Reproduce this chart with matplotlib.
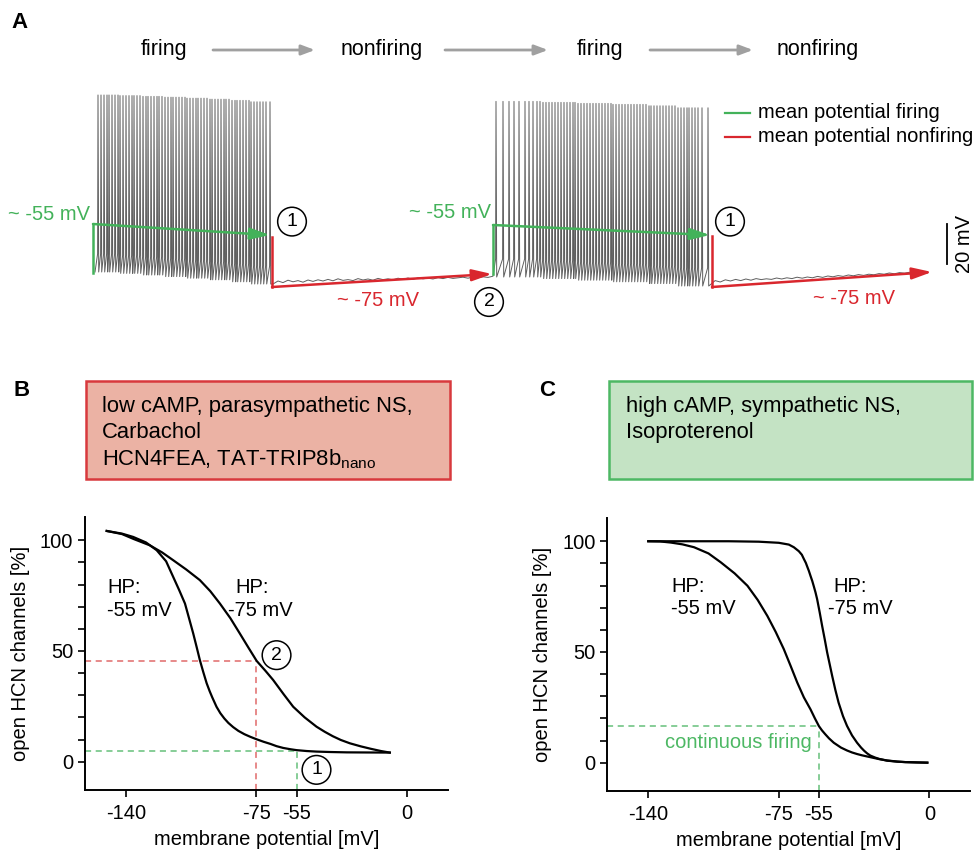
import numpy as np
import matplotlib
matplotlib.use("Agg")
import matplotlib.pyplot as plt
from matplotlib.patches import Rectangle

plt.rcParams['font.family'] = ['Liberation Sans', 'DejaVu Sans']
plt.rcParams['axes.unicode_minus'] = False
plt.rcParams['mathtext.fontset'] = 'custom'
plt.rcParams['mathtext.rm'] = 'Liberation Sans'

W, H = 975, 852
GREEN = '#43b25a'
RED = '#d9272e'
TRACE = '#5e5e5e'

# ---- panel A: spike trace (time in s, potential in mV) ----
SPIKES_1 = [9.8, 10.1, 10.4, 10.7, 10.9, 11.2, 11.5, 11.8, 12.0, 12.3, 12.6, 12.9,
            13.2, 13.4, 13.7, 14.0, 14.3, 14.6, 14.8, 15.1, 15.4, 15.7, 15.9, 16.2,
            16.5, 16.8, 17.1, 17.3, 17.6, 17.9, 18.2, 18.5, 18.7, 19.0, 19.3, 19.6,
            19.8, 20.1, 20.4, 20.7, 21.0, 21.2, 21.5, 21.8, 22.1, 22.4, 22.6, 22.9,
            23.2, 23.5, 23.7, 24.0, 24.3, 24.6, 24.9, 25.1, 25.4, 25.7, 26.0, 26.3,
            26.6, 27.0]
PEAK_1 = ([21.0] * 8 + [20.7] * 8 + [20.3] * 8 + [19.9] * 8 + [19.4] * 8 +
          [18.9] * 8 + [18.3] * 7 + [17.6] * 7)
TROUGH_1 = ([-67.5] * 8 + [-68.2] * 8 + [-69.0] * 8 + [-69.8] * 8 + [-70.6] * 8 +
            [-71.4] * 8 + [-72.4] * 7 + [-73.5] * 7)

SPIKES_2 = [49.6, 50.3, 50.9, 51.4, 51.9, 52.5, 52.9, 53.3, 53.7, 54.0, 54.3, 54.6,
            54.9, 55.2, 55.5, 55.8, 56.1, 56.4, 56.7, 57.0, 57.3, 57.5, 57.8, 58.1,
            58.4, 58.7, 59.0, 59.3, 59.6, 59.9, 60.2, 60.5, 60.8, 61.1, 61.3, 61.6,
            61.9, 62.2, 62.5, 62.8, 63.1, 63.4, 63.7, 64.0, 64.3, 64.6, 64.9, 65.1,
            65.4, 65.7, 66.0, 66.3, 66.6, 66.9, 67.2, 67.5, 67.8, 68.1, 68.4, 68.7,
            68.9, 69.2, 69.5, 69.8, 70.2, 70.8]
PEAK_2 = ([17.8] * 10 + [17.3] * 12 + [16.8] * 12 + [16.3] * 12 + [15.6] * 10 +
          [14.6] * 10)
TROUGH_2 = ([-70.0] * 10 + [-70.8] * 12 + [-71.6] * 12 + [-72.4] * 12 + [-73.3] * 10 +
            [-74.5] * 10)

BASE_1_T = (27.3, 49.3)
BASE_1_V = [-73.5, -72.0, -72.8, -71.6, -72.4, -71.8, -72.6, -71.5, -72.2, -71.4,
            -72.0, -71.2, -71.9, -70.9, -71.7, -71.3, -71.8, -70.8, -71.5, -71.0,
            -71.6, -70.7, -71.3, -70.9, -71.4, -70.6, -71.1, -70.5, -71.2, -70.4,
            -70.9, -70.6, -71.0, -70.3, -70.8, -70.2, -70.7, -70.4, -70.1, -70.6,
            -70.0, -70.4, -69.9, -70.2, -69.6]
BASE_2_T = (71.0, 92.0)
BASE_2_V = [-74.0, -71.8, -72.5, -71.4, -72.0, -71.2, -71.8, -71.0, -71.6, -70.8,
            -71.3, -70.9, -71.2, -70.5, -71.0, -70.4, -70.8, -70.1, -70.6, -70.0,
            -70.4, -69.7, -70.2, -69.5, -69.9, -69.3, -69.7, -69.0, -69.4, -68.8,
            -69.2, -68.6, -68.9, -68.3, -68.6, -68.0, -68.4, -67.8, -68.1, -67.6,
            -67.9, -67.4]

# mean potential markers: firing (green) and nonfiring (red)
FIRE_T0 = [9.3, 49.3]
FIRE_T1 = [27.0, 71.0]
FIRE_BOTTOM = [-68.0, -68.5]
FIRE_V0 = [-43.5, -44.0]
FIRE_V1 = [-49.0, -49.0]
NONF_T0 = [27.2, 71.2]
NONF_T1 = [49.2, 93.2]
NONF_TOP = [-50.0, -49.5]
NONF_V0 = [-75.0, -75.0]
NONF_V1 = [-68.5, -67.5]

STATES = ['firing', 'nonfiring', 'firing', 'nonfiring']

# ---- panels B and C: activation curves (mV, % open) ----
X_TICKS = [-140, -75, -55, 0]
B_HP55_V = [-149.6, -142, -136.4, -130, -124.7, -120, -116.5, -113.5, -110.6, -108.5,
            -106.5, -104.8, -103.2, -101.5, -99.8, -98.3, -97, -94.9, -93, -91, -89,
            -86.6, -84, -81, -78, -74.9, -71.5, -68, -65, -61.7, -58, -55, -50,
            -45.1, -38, -30, -20, -8.6]
B_HP55_P = [104.2, 103.0, 101.5, 99.0, 95.5, 90.5, 83.5, 77.5, 71.4, 64.5, 57.9, 51.8,
            45.9, 40.5, 35.4, 31.8, 29.0, 24.8, 21.9, 19.5, 17.5, 15.6, 13.9, 12.4,
            11.2, 10.1, 9.0, 8.0, 7.0, 6.2, 5.6, 5.2, 4.8, 4.55, 4.35, 4.2, 4.15, 4.1]
B_HP75_V = [-149.6, -142, -136, -128.1, -122, -116.5, -110, -103.2, -98, -93.2, -88,
            -83.3, -79, -74.9, -70.5, -66.7, -61.5, -56.7, -51, -45.1, -41, -37,
            -33, -28.5, -23, -18, -13, -8.6]
B_HP75_P = [104.2, 102.8, 100.5, 97.7, 94.5, 91.0, 86.8, 82.0, 77.0, 71.4, 64.8, 57.9,
            51.5, 45.5, 41.0, 36.9, 30.5, 24.8, 20.0, 15.8, 13.5, 11.5, 9.8, 8.3, 6.9,
            5.8, 4.8, 4.1]
C_HP75_V = [-140, -120, -100, -85, -75, -70, -67.5, -65, -63.5, -62.5, -61.5, -60.8,
            -60, -59.2, -58.3, -57.5, -56.7, -55.9, -54.6, -53.4, -52.1, -50.9, -49.6,
            -48.4, -46.8, -45.2, -43, -41, -38.5, -36, -34, -32.5, -31, -29.4, -27,
            -25, -21.1, -16, -12, -6, -1]
C_HP75_P = [100, 100, 100, 99.8, 99.3, 98.5, 97.3, 95.5, 93.9, 92.0, 90.2, 88.5, 86.6,
            84.4, 82.0, 79.5, 76.9, 73.9, 67.8, 61.8, 55.7, 49.8, 44.3, 39.2, 32.8,
            27.1, 21.0, 16.6, 12.3, 9.0, 6.8, 5.4, 4.2, 3.2, 2.3, 1.7, 0.9, 0.45, 0.25,
            0.1, 0]
C_HP55_V = [-140, -134, -128.7, -123, -117.2, -110, -103.9, -97, -90.6, -85.5, -80.7,
            -76.5, -72.5, -69, -65.8, -62.5, -59.2, -57, -55, -53.5, -52, -50, -47.6,
            -44, -41, -38.5, -36, -33.5, -31, -28, -25, -21.1, -16, -12, -6, -1]
C_HP55_P = [100, 99.9, 99.4, 98.6, 97.3, 94.5, 90.5, 85.5, 79.9, 73.5, 66.3, 59.0, 51.3,
            43.5, 36.2, 29.5, 24.1, 20.0, 16.5, 14.6, 13.0, 11.0, 9.0, 6.8, 5.5, 4.6,
            3.9, 3.3, 2.8, 2.2, 1.6, 1.0, 0.5, 0.25, 0.1, 0]

B_CROSS = {'red': (-75, 45.5), 'green': (-55, 5.0)}
C_CROSS = (-55, 16.5)


def fx(x):
    return x / W


def fy(y):
    return 1 - y / H


def circled(ax, x, y, label):
    ax.text(x, y, label, ha='center', va='center', fontsize=14, zorder=5,
            bbox=dict(boxstyle='circle,pad=0.3', fc='white', ec='black', lw=1.1))


def arrow(ax, p0, p1, color, lw=1.8, **kw):
    ax.annotate('', xy=p1, xytext=p0,
                arrowprops=dict(arrowstyle='-|>,head_length=1.2,head_width=0.35',
                                color=color, lw=lw, shrinkA=0, shrinkB=0,
                                mutation_scale=10), **kw)


def build_burst(times, peaks, troughs):
    t, v = [], []
    for ts, pk, tr in zip(times, peaks, troughs):
        t += [ts - 0.04, ts, ts + 0.07]
        v += [tr + 9.0, pk, tr]
    return t, v


def hcn_axes(rect):
    ax = fig.add_axes(rect)
    ax.set_xlim(-160.4, 20.4)
    ax.set_ylim(-12.8, 110.5)
    for s in ['top', 'right']:
        ax.spines[s].set_visible(False)
    for s in ['left', 'bottom']:
        ax.spines[s].set_linewidth(1.4)
    ax.set_xticks(X_TICKS)
    ax.set_xticklabels([str(v) for v in X_TICKS])
    ax.set_yticks([0, 50, 100])
    ax.set_yticks(np.arange(0, 101, 10), minor=True)
    ax.tick_params(which='both', length=5, width=1.2, direction='out', labelsize=14.5)
    ax.tick_params(axis='x', pad=5)
    ax.set_xlabel('membrane potential [mV]', fontsize=14.5, labelpad=5)
    ax.set_ylabel('open HCN channels [%]', fontsize=14.5, labelpad=7)
    return ax


fig = plt.figure(figsize=(W / 100, H / 100), dpi=100)

# ---------------- panel A ----------------
axA = fig.add_axes([0, fy(330), 1, 330 / H])
axA.set_xlim(0, 97.5)
axA.set_ylim(-96.5, 68.5)
axA.axis('off')

t1, v1 = build_burst(SPIKES_1, PEAK_1, TROUGH_1)
t2, v2 = build_burst(SPIKES_2, PEAK_2, TROUGH_2)
bt1 = list(np.linspace(BASE_1_T[0], BASE_1_T[1], len(BASE_1_V)))
bt2 = list(np.linspace(BASE_2_T[0], BASE_2_T[1], len(BASE_2_V)))
trace_t = [SPIKES_1[0] - 0.3] + t1 + bt1 + t2 + bt2
trace_v = [TROUGH_1[0]] + v1 + BASE_1_V + v2 + BASE_2_V
axA.plot(trace_t, trace_v, color=TRACE, lw=0.7, zorder=2)

for i in range(2):
    axA.plot([FIRE_T0[i], FIRE_T0[i]], [FIRE_BOTTOM[i], FIRE_V0[i]], color=GREEN, lw=1.8, zorder=3)
    arrow(axA, (FIRE_T0[i], FIRE_V0[i]), (FIRE_T1[i], FIRE_V1[i]), GREEN)
    axA.plot([NONF_T0[i], NONF_T0[i]], [NONF_TOP[i], NONF_V0[i]], color=RED, lw=1.8, zorder=3)
    arrow(axA, (NONF_T0[i], NONF_V0[i]), (NONF_T1[i], NONF_V1[i]), RED)

axA.text(9.0, -39, '~ -55 mV', color=GREEN, fontsize=14.5, ha='right', va='center')
axA.text(49.1, -38, '~ -55 mV', color=GREEN, fontsize=14.5, ha='right', va='center')
axA.text(37.8, -81.5, '~ -75 mV', color=RED, fontsize=14.5, ha='center', va='center')
axA.text(85.4, -80.5, '~ -75 mV', color=RED, fontsize=14.5, ha='center', va='center')
circled(axA, 29.2, -42.3, '1')
circled(axA, 73.0, -42.3, '1')
circled(axA, 48.9, -82.5, '2')

# legend
axA.plot([72.5, 75.0], [12, 12], color=GREEN, lw=1.6)
axA.plot([72.5, 75.0], [0, 0], color=RED, lw=1.6)
axA.text(75.8, 12, 'mean potential firing', fontsize=14.5, va='center')
axA.text(75.8, 0, 'mean potential nonfiring', fontsize=14.5, va='center')

# scale bar 20 mV
axA.plot([94.7, 94.7], [-43.5, -63.5], color='black', lw=1.3)
axA.text(96.4, -53.5, '20 mV', fontsize=14.5, rotation=90, ha='center', va='center')

# state sequence
state_x = [164, 382, 600, 818]
for x, s in zip(state_x, STATES):
    fig.text(fx(x), fy(50), s, fontsize=15.5, ha='center', va='center')
for x0, x1 in [(213, 315), (445, 548), (650, 753)]:
    fig.add_artist(plt.Annotation('', xy=(fx(x1), fy(50)), xytext=(fx(x0), fy(50)),
                                  xycoords='figure fraction', textcoords='figure fraction',
                                  arrowprops=dict(arrowstyle='-|>,head_length=0.8,head_width=0.3',
                                                  color='#a0a0a0', lw=2, shrinkA=0, shrinkB=0,
                                                  mutation_scale=10)))

fig.text(fx(20), fy(22), 'A', fontsize=16, fontweight='bold', ha='center', va='center')
fig.text(fx(22), fy(391), 'B', fontsize=16, fontweight='bold', ha='center', va='center')
fig.text(fx(547), fy(391), 'C', fontsize=16, fontweight='bold', ha='center', va='center')

# condition boxes
fig.add_artist(Rectangle((fx(86), fy(479)), fx(364), 98 / H, transform=fig.transFigure,
                         fc='#ebb2a4', ec='#d8393d', lw=1.8))
fig.add_artist(Rectangle((fx(609), fy(479)), fx(363), 98 / H, transform=fig.transFigure,
                         fc='#c4e3c4', ec='#4db864', lw=1.8))
b_lines = ['low cAMP, parasympathetic NS,', 'Carbachol',
           r'HCN4FEA, TAT-TRIP8$\mathrm{b}_{\mathrm{nano}}$']
c_lines = ['high cAMP, sympathetic NS,', 'Isoproterenol']
for i, s in enumerate(b_lines):
    fig.text(fx(102), fy(411.7 + 26.7 * i), s, fontsize=15.8, va='baseline')
for i, s in enumerate(c_lines):
    fig.text(fx(626), fy(411.7 + 26.7 * i), s, fontsize=15.8, va='baseline')

# ---------------- panel B ----------------
axB = hcn_axes([fx(85), fy(790), fx(363), 273 / H])
xr, yr = B_CROSS['red']
xg, yg = B_CROSS['green']
axB.plot([-160.4, xr], [yr, yr], color='#e06a6a', lw=1.1, ls=(0, (4, 3)))
axB.plot([xr, xr], [-12.8, yr], color='#e06a6a', lw=1.1, ls=(0, (4, 3)))
axB.plot([-160.4, xg], [yg, yg], color='#66c07a', lw=1.1, ls=(0, (4, 3)))
axB.plot([xg, xg], [-12.8, yg], color='#66c07a', lw=1.1, ls=(0, (4, 3)))
axB.plot(B_HP55_V, B_HP55_P, color='black', lw=1.6)
axB.plot(B_HP75_V, B_HP75_P, color='black', lw=1.6)
axB.text(-149.5, 78.5, 'HP:', fontsize=14.5, va='center')
axB.text(-149.5, 68.4, '-55 mV', fontsize=14.5, va='center')
axB.text(-85.7, 78.5, 'HP:', fontsize=14.5, va='center')
axB.text(-89.1, 68.4, '-75 mV', fontsize=14.5, va='center')
circled(axB, -65, 48.1, '2')
circled(axB, -45.1, -3.7, '1')

# ---------------- panel C ----------------
axC = hcn_axes([fx(607.3), fy(791), fx(363), 273 / H])
xc, yc = C_CROSS
axC.plot([-160.4, xc], [yc, yc], color='#66c07a', lw=1.1, ls=(0, (4, 3)))
axC.plot([xc, xc], [-12.8, yc], color='#66c07a', lw=1.1, ls=(0, (4, 3)))
axC.plot(C_HP55_V, C_HP55_P, color='black', lw=1.6)
axC.plot(C_HP75_V, C_HP75_P, color='black', lw=1.6)
axC.text(-58.4, 9, 'continuous firing', color='#4db864', fontsize=14.5, ha='right', va='center')
axC.text(-128.7, 79.6, 'HP:', fontsize=14.5, va='center')
axC.text(-128.7, 69.4, '-55 mV', fontsize=14.5, va='center')
axC.text(-47.6, 79.6, 'HP:', fontsize=14.5, va='center')
axC.text(-50.6, 69.4, '-75 mV', fontsize=14.5, va='center')

fig.savefig('out.png', dpi=100)
